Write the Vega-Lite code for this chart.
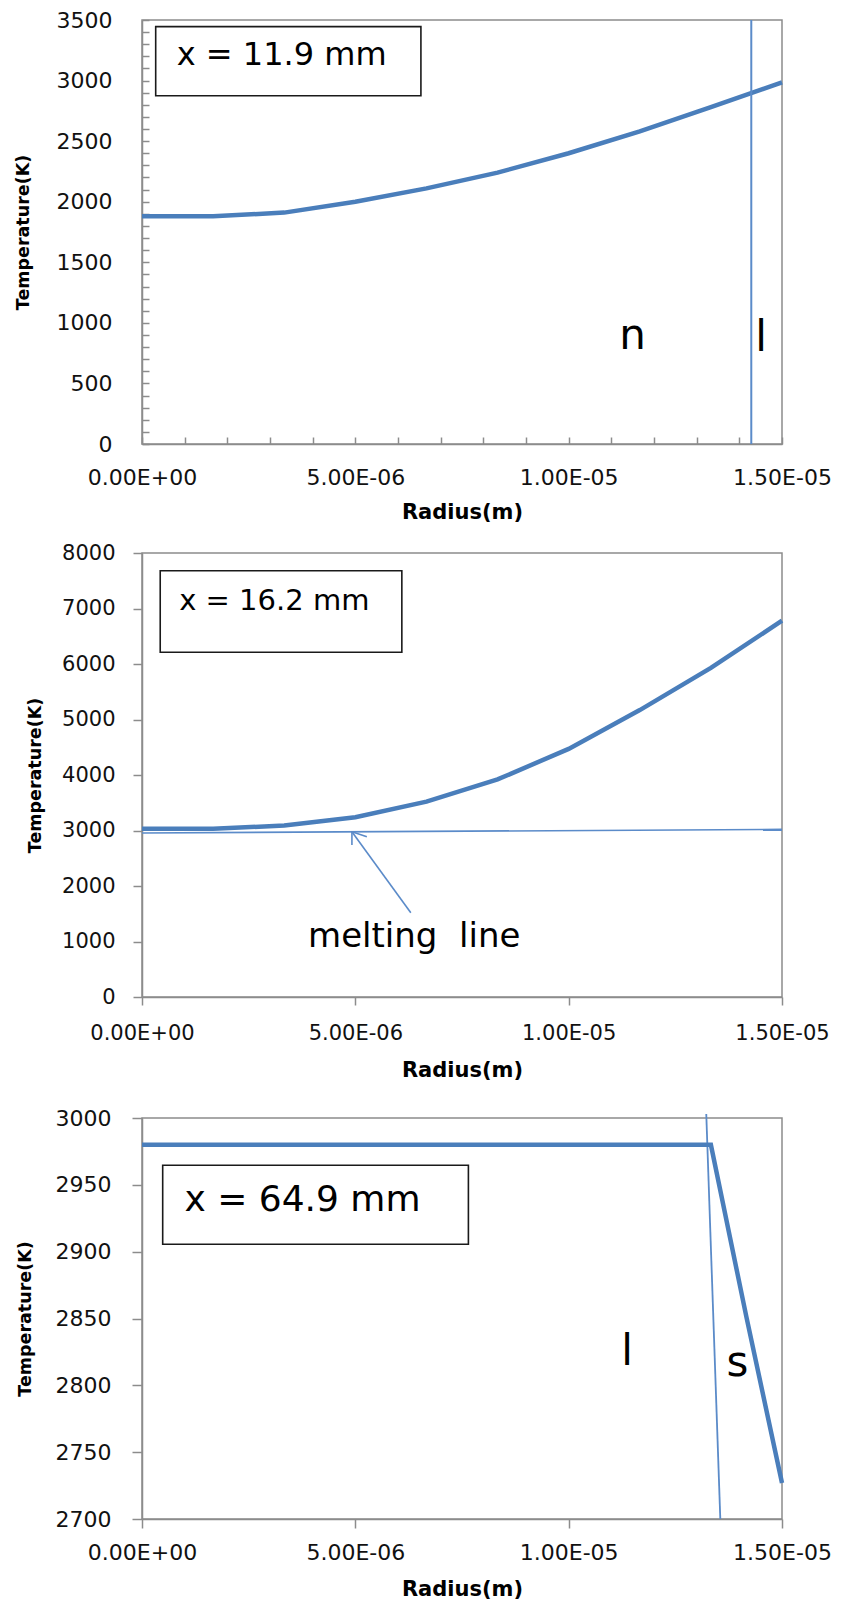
{
  "$schema": "https://vega.github.io/schema/vega-lite/v6.json",
  "padding": {"top": 8, "left": 13, "right": 2, "bottom": 2},
  "background": "white",
  "columns": 1,
  "spacing": {"row": 17, "column": 0},
  "config": {
    "view": {"stroke": "#8c8c8c", "strokeWidth": 1.5},
    "axis": {"domainColor": "#8c8c8c", "domainWidth": 1.5, "tickColor": "#8c8c8c", "tickWidth": 1.5, "grid": false, "labelFont": "DejaVu Sans", "labelColor": "#111111", "titleFont": "DejaVu Sans", "titleColor": "#000000", "titleFontWeight": "bold", "labelFlush": false, "labelOverlap": false, "labelBound": false},
    "text": {"font": "DejaVu Sans", "color": "#000000"}
  },
  "datasets": {
    "p1": [
      {"r": 0, "T": 1880}, {"r": 1.6667e-6, "T": 1880}, {"r": 3.3333e-6, "T": 1910}, {"r": 5e-6, "T": 2000},
      {"r": 6.6667e-6, "T": 2110}, {"r": 8.3333e-6, "T": 2240}, {"r": 1e-5, "T": 2400}, {"r": 1.16667e-5, "T": 2580},
      {"r": 1.33333e-5, "T": 2780}, {"r": 1.5e-5, "T": 2985}
    ],
    "p1rules": [{"r": 1.428e-5, "T": 0, "r2": 1.428e-5, "T2": 3500}],
    "p1box": [{"r": 3.21e-7, "T": 3445, "r2": 6.537e-6, "T2": 2875}],
    "p1label": [{"r": 8.13e-7, "T": 3211, "t": "x = 11.9 mm"}],
    "p1zones": [{"r": 1.15e-5, "T": 784, "t": "n"}, {"r": 1.451e-5, "T": 767, "t": "l"}],
    "p2": [
      {"r": 0, "T": 3030}, {"r": 1.6667e-6, "T": 3030}, {"r": 3.3333e-6, "T": 3090}, {"r": 5e-6, "T": 3240},
      {"r": 6.6667e-6, "T": 3520}, {"r": 8.3333e-6, "T": 3920}, {"r": 1e-5, "T": 4470}, {"r": 1.16667e-5, "T": 5170},
      {"r": 1.33333e-5, "T": 5930}, {"r": 1.5e-5, "T": 6780}
    ],
    "p2rules": [
      {"r": 0, "T": 2955, "r2": 1.5e-5, "T2": 3020},
      {"r": 4.92e-6, "T": 2978, "r2": 6.30e-6, "T2": 1519},
      {"r": 4.92e-6, "T": 2978, "r2": 4.92e-6, "T2": 2739},
      {"r": 4.92e-6, "T": 2978, "r2": 5.27e-6, "T2": 2888}
    ],
    "p2box": [{"r": 4.27e-7, "T": 7681, "r2": 6.09e-6, "T2": 6211}],
    "p2label": [{"r": 8.72e-7, "T": 7140, "t": "x = 16.2 mm"}],
    "p2note": [{"r": 6.38e-6, "T": 906, "t": "melting\u00a0\u00a0line"}],
    "p3": [{"r": 0, "T": 2980}, {"r": 1.33333e-5, "T": 2980}, {"r": 1.41667e-5, "T": 2851}, {"r": 1.5e-5, "T": 2727}],
    "p3rules": [{"r": 1.3225e-5, "T": 3003, "r2": 1.3554e-5, "T2": 2700}],
    "p3box": [{"r": 4.85e-7, "T": 2964.7, "r2": 7.65e-6, "T2": 2905.6}],
    "p3label": [{"r": 9.94e-7, "T": 2938.6, "t": "x = 64.9 mm"}],
    "p3zones": [{"r": 1.137e-5, "T": 2815, "t": "l"}, {"r": 1.3956e-5, "T": 2807, "t": "s"}]
  },
  "concat": [
    {
      "width": 640, "height": 424,
      "encoding": {
        "x": {"field": "r", "type": "quantitative", "scale": {"domain": [0, 1.5e-5], "nice": false, "zero": false},
          "axis": {"title": "Radius(m)", "values": [0, 1e-6, 2e-6, 3e-6, 4e-6, 5e-6, 6e-6, 7e-6, 8e-6, 9e-6, 1e-5, 1.1e-5, 1.2e-5, 1.3e-5, 1.4e-5, 1.5e-5],
            "labelExpr": "abs(datum.value*2e5 - round(datum.value*2e5)) < 1e-3 ? replace(replace(format(datum.value, '.2e'), 'e-', 'E-0'), 'e+', 'E+0') : ''",
            "tickSize": -7, "labelPadding": 30.5, "labelFontSize": 22, "titleFontSize": 21, "titlePadding": 13}},
        "y": {"field": "T", "type": "quantitative", "scale": {"domain": [0, 3500], "nice": false},
          "axis": {"title": "Temperature(K)", "format": "d", "values": [0,100,200,300,400,500,600,700,800,900,1000,1100,1200,1300,1400,1500,1600,1700,1800,1900,2000,2100,2200,2300,2400,2500,2600,2700,2800,2900,3000,3100,3200,3300,3400,3500],
            "labelExpr": "datum.value % 500 === 0 ? datum.label : ''",
            "tickSize": -7, "labelPadding": 37, "labelFontSize": 22, "titleFontSize": 17.5, "titlePadding": 24}}
      },
      "layer": [
        {"data": {"name": "p1box"}, "mark": {"type": "rect", "fill": "white", "stroke": "#1a1a1a", "strokeWidth": 1.6}, "encoding": {"x2": {"field": "r2"}, "y2": {"field": "T2"}}},
        {"data": {"name": "p1label"}, "mark": {"type": "text", "align": "left", "baseline": "middle", "fontSize": 32}, "encoding": {"text": {"field": "t"}}},
        {"data": {"name": "p1"}, "mark": {"type": "line", "color": "#4A7EBB", "strokeWidth": 4.5}},
        {"data": {"name": "p1rules"}, "mark": {"type": "rule", "color": "#5B8BC9", "strokeWidth": 2}, "encoding": {"x2": {"field": "r2"}, "y2": {"field": "T2"}}},
        {"data": {"name": "p1zones"}, "mark": {"type": "text", "align": "center", "baseline": "alphabetic", "fontSize": 42}, "encoding": {"text": {"field": "t"}}}
      ]
    },
    {
      "width": 640, "height": 444,
      "encoding": {
        "x": {"field": "r", "type": "quantitative", "scale": {"domain": [0, 1.5e-5], "nice": false, "zero": false},
          "axis": {"title": "Radius(m)", "values": [0, 5e-6, 1e-5, 1.5e-5],
            "labelExpr": "replace(replace(format(datum.value, '.2e'), 'e-', 'E-0'), 'e+', 'E+0')",
            "tickSize": 8, "labelPadding": 17.5, "labelFontSize": 21, "titleFontSize": 21, "titlePadding": 16}},
        "y": {"field": "T", "type": "quantitative", "scale": {"domain": [0, 8000], "nice": false},
          "axis": {"title": "Temperature(K)", "format": "d", "values": [0,1000,2000,3000,4000,5000,6000,7000,8000],
            "tickSize": 9, "labelPadding": 18, "labelFontSize": 21, "titleFontSize": 17.5, "titlePadding": 17}}
      },
      "layer": [
        {"data": {"name": "p2box"}, "mark": {"type": "rect", "fill": "white", "stroke": "#1a1a1a", "strokeWidth": 1.6}, "encoding": {"x2": {"field": "r2"}, "y2": {"field": "T2"}}},
        {"data": {"name": "p2label"}, "mark": {"type": "text", "align": "left", "baseline": "middle", "fontSize": 29}, "encoding": {"text": {"field": "t"}}},
        {"data": {"name": "p2rules"}, "mark": {"type": "rule", "color": "#5B8BC9", "strokeWidth": 1.6}, "encoding": {"x2": {"field": "r2"}, "y2": {"field": "T2"}}},
        {"data": {"name": "p2"}, "mark": {"type": "line", "color": "#4A7EBB", "strokeWidth": 4.5}},
        {"data": {"name": "p2note"}, "mark": {"type": "text", "align": "center", "baseline": "alphabetic", "fontSize": 34}, "encoding": {"text": {"field": "t"}}}
      ]
    },
    {
      "width": 640, "height": 401,
      "title": {"text": " ", "fontSize": 2, "offset": 4.5},
      "encoding": {
        "x": {"field": "r", "type": "quantitative", "scale": {"domain": [0, 1.5e-5], "nice": false, "zero": false},
          "axis": {"title": "Radius(m)", "values": [0, 5e-6, 1e-5, 1.5e-5],
            "labelExpr": "replace(replace(format(datum.value, '.2e'), 'e-', 'E-0'), 'e+', 'E+0')",
            "tickSize": 9, "labelPadding": 14, "labelFontSize": 22, "titleFontSize": 21, "titlePadding": 15}},
        "y": {"field": "T", "type": "quantitative", "scale": {"domain": [2700, 3000], "nice": false, "zero": false},
          "axis": {"title": "Temperature(K)", "format": "d", "values": [2700,2750,2800,2850,2900,2950,3000],
            "tickSize": 10, "labelPadding": 21, "labelFontSize": 22, "titleFontSize": 17.5, "titlePadding": 21}}
      },
      "layer": [
        {"data": {"name": "p3box"}, "mark": {"type": "rect", "fill": "white", "stroke": "#1a1a1a", "strokeWidth": 1.6}, "encoding": {"x2": {"field": "r2"}, "y2": {"field": "T2"}}},
        {"data": {"name": "p3label"}, "mark": {"type": "text", "align": "left", "baseline": "middle", "fontSize": 36}, "encoding": {"text": {"field": "t"}}},
        {"data": {"name": "p3rules"}, "mark": {"type": "rule", "color": "#5B8BC9", "strokeWidth": 1.8}, "encoding": {"x2": {"field": "r2"}, "y2": {"field": "T2"}}},
        {"data": {"name": "p3"}, "mark": {"type": "line", "color": "#4A7EBB", "strokeWidth": 4.5}},
        {"data": {"name": "p3zones"}, "mark": {"type": "text", "align": "center", "baseline": "alphabetic", "fontSize": 42}, "encoding": {"text": {"field": "t"}}}
      ]
    }
  ]
}
